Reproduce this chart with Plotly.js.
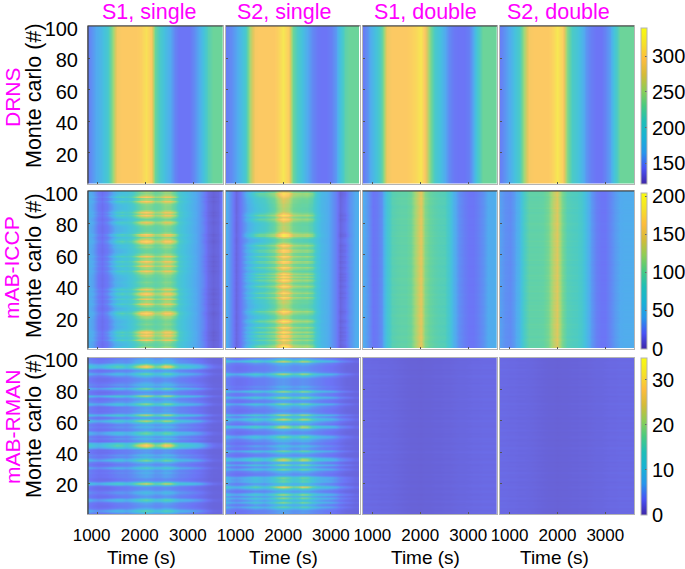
<!DOCTYPE html>
<html><head><meta charset="utf-8">
<script src="https://cdn.plot.ly/plotly-3.0.1.min.js"></script>
<style>html,body{margin:0;padding:0;background:#fff}#c{width:685px;height:569px}</style>
</head><body><div id="c"></div>
<script>
const timeS=[800,900,1000,1100,1200,1300,1400,1500,1600,1700,1800,1900,2000,2100,2200,2300,2400,2500,2600,2700,2800,2900,3000,3100,3200,3300,3400,3500,3600];
const columnTitles=['S1, single','S2, single','S1, double','S2, double'];
const rowTitles=['DRNS','mAB-ICCP','mAB-RMAN'];

// DRNS: concentration against time
const drnsS1Single=[148,159,170,181,200,242,290,296,296,296,296,301,314,296,231,205,183,166,150,144,144,144,153,166,187,218,231,231,231];
const drnsS2Single=[148,153,163,177,200,257,292,296,296,296,296,303,318,301,231,205,187,166,153,146,144,144,148,159,187,222,231,231,231];
const drnsS1Double=[146,157,177,194,224,286,296,296,296,296,301,307,318,292,242,205,187,166,153,146,144,144,148,163,205,231,231,231,231];
const drnsS2Double=[148,157,168,185,207,253,292,296,296,296,296,305,318,303,242,209,194,177,157,148,144,144,150,161,198,231,231,231,231];

// mAB-ICCP: low and high envelope against time, and where each run sits between them (%)
const iccpS1Low=[41,35,20,17,20,29,37,43,51,62,72,78,84,84,86,90,94,90,78,68,59,51,41,35,29,16,12,14,27];
const iccpS1High=[51,41,27,21,31,51,82,92,82,92,123,160,174,160,127,133,160,160,127,86,68,57,45,35,25,14,8,12,25];
const iccpS2Low=[45,29,12,21,31,41,49,55,66,78,88,103,113,107,94,90,88,86,78,62,51,45,35,25,14,21,33,41,51];
const iccpS2High=[45,29,14,21,41,66,92,103,103,113,123,154,189,174,133,127,123,127,113,72,55,47,35,25,10,16,31,41,51];
const iccpS1Runs=[50,30,20,25,40,90,50,60,90,70,95,50,30,20,20,30,25,20,30,40,50,70,100,60,30,20,30,50,85,45,40,80,40,50,90,85,40,80,50,20,20,25,30,20,20,25,30,40,60,85,40,50,85,50,60,90,50,40,85,50,30,20,20,30,40,35,50,90,100,60,35,70,90,40,20,20,20,25,35,65,75,30,20,50,90,60,90,60,30,30,30,35,50,90,50,40,90,50,35,40];
const iccpS2Runs=[80,100,80,40,50,85,40,70,80,40,90,40,50,85,40,25,50,95,50,20,20,30,60,90,50,30,20,20,25,35,30,50,85,40,50,85,50,30,50,90,60,30,50,90,50,85,50,85,40,20,50,85,40,30,70,85,35,50,85,40,35,70,80,40,50,85,50,15,5,5,50,100,100,70,35,30,30,30,25,30,40,70,85,50,95,70,40,30,25,25,30,30,35,40,40,50,60,80,90,50];
const iccpS1Double=[43,33,21,23,31,68,90,94,96,96,103,127,148,113,100,94,90,88,74,45,31,25,21,21,25,31,41,43,45];
const iccpS2Double=[37,31,29,35,49,82,96,96,96,98,107,131,144,109,90,86,84,76,55,35,25,21,21,27,35,41,43,43,43];
const iccpS1DoubleRuns=[100,99,101,100,98,100,101,102,100,99,100,101,100,99,98,100,101,100,100,99,101,102,100,99,100,100,98,99,101,100,100,101,99,100,102,100,99,100,101,100,98,100,100,101,102,100,99,100,100,101,100,99,98,100,101,100,100,102,100,99,100,101,100,99,100,98,100,101,100,100,99,102,100,101,100,99,100,100,98,101,100,100,102,100,99,100,101,100,100,99,98,100,101,100,100,102,100,99,100,101];
const iccpS2DoubleRuns=[100,101,99,100,100,102,100,98,100,101,100,100,99,101,100,102,100,99,100,98,101,100,100,99,102,100,100,101,99,100,98,100,101,100,100,99,102,100,100,101,99,100,100,98,101,100,102,100,99,100,100,101,100,98,100,99,102,100,100,101,100,99,100,100,98,101,100,100,102,99,100,100,101,100,99,98,100,100,101,102,100,99,100,100,101,100,98,100,99,102,100,101,100,100,99,100,98,101,100,100];

// mAB-RMAN
const rmanS1Low=[3.6,3.1,2.8,2.8,2.8,3.1,3.4,3.7,3.9,4.2,4.5,4.8,5,4.8,4.5,4.5,4.8,4.5,4.2,3.9,3.7,3.4,3.1,2.8,2.6,2.2,2,2,2];
const rmanS1High=[13,10.5,9,10,12,14,16,15,12,15,21,26,30,25,19,21,28,26,18,14,13,12,10.5,9,7,5,3.5,3,3];
const rmanS2Low=[4,3.4,3,3,3.1,3.4,3.6,3.8,4,4.3,4.6,5,5.2,5,4.6,4.6,4.8,4.6,4.3,4,3.8,3.4,3.2,2.9,2.6,2.2,2.1,2,2];
const rmanS2High=[14,10,9,10,12,14,17,15,12,15,20,25,29,25,19,21,27,25,18,14,12,11,10,8,6,5,4,3,3];
const rmanS1Runs=[8,35,46,12,3,3,6,8,41,46,8,3,8,20,16,3,1,3,16,85,25,3,1,6,8,6,12,6,12,41,16,3,6,20,59,30,6,20,8,3,6,3,59,100,93,59,6,8,20,6,35,52,41,8,6,16,12,6,30,78,35,3,25,78,20,6,8,6,6,30,65,25,12,6,20,78,12,3,3,20,59,8,20,12,6,3,3,6,20,52,25,6,12,78,100,65,16,16,12,6];
const rmanS2Runs=[3,8,3,20,52,16,25,65,25,35,65,16,72,25,8,20,46,100,41,16,52,46,46,59,12,3,8,20,59,25,12,65,16,20,78,72,16,3,8,20,59,8,8,25,8,3,12,16,30,59,16,3,3,8,20,78,65,8,16,41,85,41,16,78,16,3,3,8,12,20,65,12,3,25,72,16,8,20,72,16,3,12,3,3,3,3,3,8,30,78,20,3,3,3,3,8,20,85,35,8];
const rmanDoubleProfile=[2.5,2.5,2.4,2.4,2.3,2.3,2.2,2.1,2,1.9,1.8,1.8,1.7,1.8,1.8,1.9,1.9,2,2,2.1,2.2,2.2,2.3,2.4,2.4,2.5,2.5,2.5,2.5];
const rmanS1DoubleRuns=[100,104,97,100,106,98,95,102,108,96,100,103,94,100,105,99,96,102,107,100,95,99,104,100,97,108,95,100,103,98,101,94,100,106,99,96,103,100,97,110,104,96,100,105,98,95,102,100,107,96,100,94,103,99,105,100,96,102,98,108,100,95,101,104,97,100,93,106,100,98,103,95,100,107,99,96,102,100,95,104,98,100,106,94,101,100,97,103,108,96,100,99,95,105,100,102,96,100,94,104];
const rmanS2DoubleRuns=[103,97,100,95,105,100,98,104,94,100,107,96,101,99,103,95,100,106,98,100,94,102,105,97,100,99,108,95,100,103,96,101,100,94,106,99,102,95,100,104,97,100,108,96,99,103,100,94,101,105,98,100,95,107,100,97,102,100,96,104,99,94,100,106,98,103,95,100,101,97,108,100,96,102,99,94,105,100,97,103,100,95,106,98,100,102,94,100,104,96,101,99,107,95,100,98,103,100,96,100];

const runIdx=[];for(let i=1;i<=100;i++)runIdx.push(i);

// parula, used both by the maps and the colour bars
const parula=[[0,'#3e26a8'],[0.1,'#4852f4'],[0.2,'#2796eb'],[0.3,'#18b2d5'],[0.4,'#1fbeb7'],[0.5,'#48ca81'],[0.6,'#8dcd56'],[0.7,'#d4bb38'],[0.8,'#fdbc3d'],[0.9,'#f5e128'],[1,'#f9fb0e']];
const rowLimits=[[122,340],[0,205],[0,35]];
const rowTicks=[[150,200,250,300],[0,50,100,150,200],[0,10,20,30]];

function same(profile){return [0.5,100.5].map(()=>profile.slice());}
function blend(low,high,runs){return runs.map(g=>low.map((v,i)=>v+(high[i]-v)*g/100));}
function scaled(profile,runs){return runs.map(g=>profile.map(v=>v*g/100));}

const maps=[
 [same(drnsS1Single),same(drnsS2Single),same(drnsS1Double),same(drnsS2Double)],
 [blend(iccpS1Low,iccpS1High,iccpS1Runs),blend(iccpS2Low,iccpS2High,iccpS2Runs),scaled(iccpS1Double,iccpS1DoubleRuns),scaled(iccpS2Double,iccpS2DoubleRuns)],
 [blend(rmanS1Low,rmanS1High,rmanS1Runs),blend(rmanS2Low,rmanS2High,rmanS2Runs),scaled(rmanDoubleProfile,rmanS1DoubleRuns),scaled(rmanDoubleProfile,rmanS2DoubleRuns)]
];

const W=685,H=569;
const colX=[[88,222.7],[226,359.5],[362.7,497],[500,634]];
const rowY=[[26,183.5],[191,348.5],[357.5,514]];
const barY=[[27.5,183.5],[192.5,348.5],[357.5,514]];
const labelShift=[-6,-1.5,-1.5,-2.5];
const edge='#b4b4b4';
const font='"Liberation Sans", Arial, sans-serif';

const traces=[],layout={width:W,height:H,margin:{l:0,r:0,t:0,b:0,autoexpand:false},paper_bgcolor:'#fff',plot_bgcolor:'#fff',showlegend:false,font:{family:font,color:'#000'},annotations:[],shapes:[]};
function note(text,px,py,size,color,angle){layout.annotations.push({text:text,xref:'paper',yref:'paper',x:px/W,y:1-py/H,xanchor:'center',yanchor:'middle',showarrow:false,textangle:angle||0,font:{family:font,size:size,color:color||'#000'}});}
function line(x0,y0,x1,y1){layout.shapes.push({type:'line',xref:'paper',yref:'paper',x0:x0/W,x1:x1/W,y0:1-y0/H,y1:1-y1/H,line:{color:'#3c3c3c',width:1.2},layer:'above'});}

rowY.forEach((ry,r)=>{colX.forEach((cx,c)=>{
  const n=r*4+c+1,sfx=n===1?'':String(n);
  const z=maps[r][c];
  const t={type:'heatmap',x:timeS,y:r===0?[0.5,100.5]:runIdx,z:z,zmin:rowLimits[r][0],zmax:rowLimits[r][1],colorscale:parula,zsmooth:'best',opacity:0.8,showscale:false,xaxis:'x'+sfx,yaxis:'y'+sfx,hoverinfo:'skip'};
  if(c===3){t.showscale=true;t.colorbar={xref:'paper',yref:'paper',x:641/W,xanchor:'left',xpad:0,ypad:0,y:1-barY[r][0]/H,yanchor:'top',lenmode:'pixels',len:barY[r][1]-barY[r][0],thicknessmode:'pixels',thickness:6,outlinecolor:edge,outlinewidth:1,ticks:'inside',ticklen:2,tickcolor:'#666',tickvals:rowTicks[r],ticktext:rowTicks[r].map(String),tickfont:{family:font,size:20,color:'#000'},ticklabelposition:'outside'};}
  traces.push(t);
  layout['xaxis'+sfx]={domain:[cx[0]/W,cx[1]/W],anchor:'y'+sfx,range:[800,3600],tickmode:'array',tickvals:[1000,2000,3000],ticktext:['1000','2000','3000'],showticklabels:r===2,ticks:'inside',ticklen:2,tickcolor:'#555',tickfont:{family:font,size:17,color:'#000'},ticklabelstandoff:6,ticklabelshift:labelShift[c],showline:true,mirror:true,linecolor:edge,linewidth:1,showgrid:false,zeroline:false,fixedrange:true};
  layout['yaxis'+sfx]={domain:[1-ry[1]/H,1-ry[0]/H],anchor:'x'+sfx,range:[0.5,100.5],tickmode:'array',tickvals:[20,40,60,80,100],ticktext:['20','40','60','80','100'],showticklabels:c===0,ticks:'inside',ticklen:2,tickcolor:'#555',tickfont:{family:font,size:20,color:'#000'},ticklabelstandoff:5,ticklabelshift:2,showline:true,mirror:true,linecolor:edge,linewidth:1,showgrid:false,zeroline:false,fixedrange:true};
  if(r<2)line(cx[0],ry[0],cx[1],ry[0]);
});
 line(colX[0][0],rowY[r][0],colX[0][0],rowY[r][1]);
});

const colTitleX=[149,284,425,558];
columnTitles.forEach((s,i)=>note(s,colTitleX[i],12,21.5,'#ff00ff'));
const rowTitleY=[97,268,427];
rowTitles.forEach((s,i)=>note(s,12,rowTitleY[i],21,'#ff00ff',-90));
[96,266,426].forEach(y=>note('Monte carlo (#)',34,y,21.5,'#000',-90));
[141,283,425,554].forEach(x=>note('Time (s)',x,557,19,'#000'));

Plotly.newPlot('c',traces,layout,{displayModeBar:false,responsive:false});
</script></body></html>
